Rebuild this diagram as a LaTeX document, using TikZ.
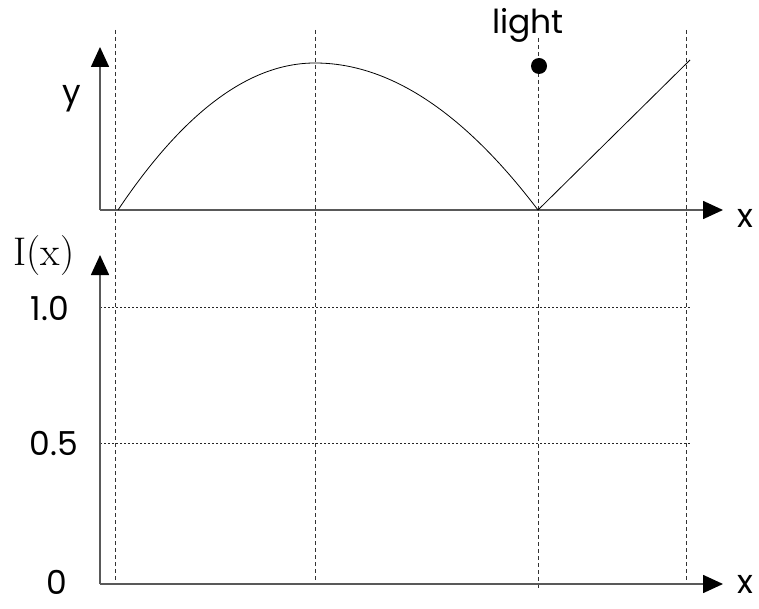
\documentclass[tikz,border=0pt]{standalone}
\usepackage{fontspec}
\setsansfont{Poppins}
\usetikzlibrary{arrows.meta, positioning, calc}
\tikzset{
  axis/.style={draw=black!65, line width=1.6pt,
    -{Triangle[length=20pt, width=18pt, color=black]}},
  guide/.style={draw=black!80, line width=0.8pt, dash pattern=on 4pt off 3pt},
  level/.style={draw=black!85, line width=1pt, dash pattern=on 1.5pt off 2.5pt},
  lbl/.style={font=\sffamily\fontsize{33}{33}\selectfont, inner sep=0pt}
}
\begin{document}
\begin{tikzpicture}[x=1pt, y=-1pt]
  \useasboundingbox (0,0) rectangle (759,609);

  % axes
  \coordinate (o1) at (100,210);
  \coordinate (ytop) at (100,47);
  \coordinate (x1end) at (723,210);
  \coordinate (o2) at (100,584);
  \coordinate (itop) at (100,255);
  \coordinate (x2end) at (723,584);

  % guides
  \foreach \gx/\gt/\gb in {115/30/584, 315/30/584, 538/38/590, 686/30/584}
    \draw[guide] (\gx,\gt) -- (\gx,\gb);
  \foreach \ly in {307, 443}
    \draw[level] (o2 |- 0,\ly) -- (692,\ly);

  \draw[axis] (o1) -- (ytop);
  \draw[axis] (o1) -- (x1end);
  \draw[axis] (o2) -- (itop);
  \draw[axis] (o2) -- (x2end);

  % surface
  \coordinate (s0) at (118,210);
  \coordinate (peak) at (315,63);
  \coordinate (s1) at (538,210);
  \coordinate (s2) at (690,60);
  \draw[line width=0.8pt] (s0) .. controls (183.7,112) and (249.3,63) .. (peak)
    .. controls (389.3,63) and (463.7,112) .. (s1) -- (s2);
  \node[circle, fill=black, inner sep=0pt, minimum size=16pt] (light) at (539,66) {};

  % labels
  \node[lbl] (lightlbl) at (528,25) {light};
  \node[lbl] (ylbl) at (72,99) {y};
  \node[lbl] (xlbl1) at (745,218) {x};
  \node[lbl] (xlbl2) at (745,584) {x};
  \node[font=\fontsize{40}{40}\selectfont, inner sep=0pt] (ilbl) at (44,256) {I(x)};
  \node[lbl] (one) at (50,308) {1.0};
  \node[lbl] (half) at (54,443) {0.5};
  \node[lbl] (zero) at (57,582) {0};
\end{tikzpicture}
\end{document}
